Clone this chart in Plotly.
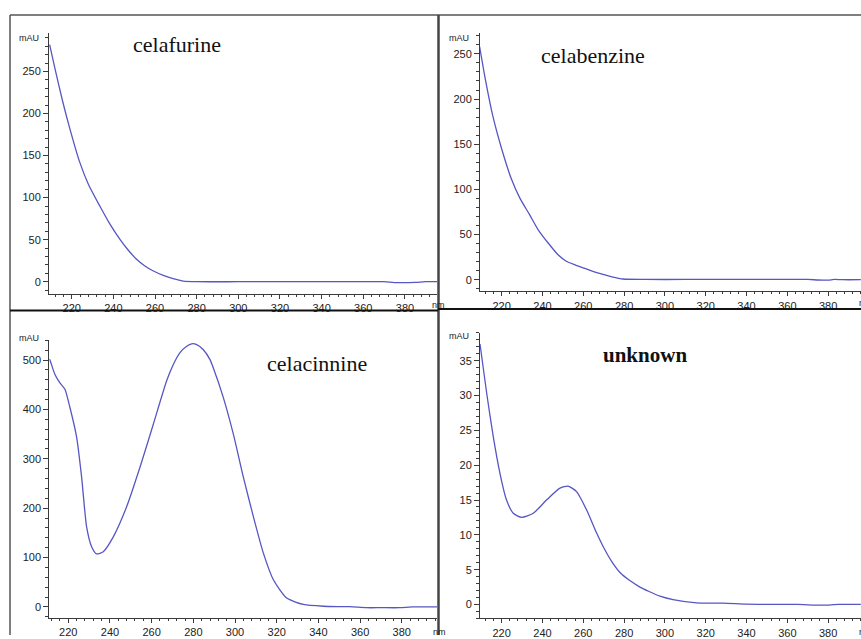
import plotly.graph_objects as go

W, H = 861, 639

# ---------------- data ----------------
celafurine_nm = [209.4, 212, 215.7, 219, 223.8, 228, 233.5, 238, 243, 247, 251, 255, 259, 264,
                 268.7, 273.5, 280, 300, 320, 340, 360, 370, 375, 380, 385, 390, 395.4]
celafurine_mau = [282, 253, 214, 183, 142.5, 116, 90, 70, 51, 38, 27, 19, 13, 7.5,
                  3.6, 0.8, 0, 0, 0, 0, 0, 0, -1, -1, -0.8, 0, 0]

celabenzine_nm = [209.2, 212, 215.7, 220, 224.7, 229, 233.7, 238, 243.5, 247.5, 251.7, 256, 259.9,
                  265, 269.7, 274, 279.5, 290, 310, 330, 350, 370, 375, 380, 383, 387, 396]
celabenzine_mau = [258, 222, 181, 145, 112, 90, 72, 55, 38.7, 28, 20.5, 16.5, 13.2,
                   9, 5.8, 3.2, 0.8, 0.3, 0.3, 0.3, 0.3, 0.3, -0.3, -0.5, 0.4, 0, 0]

celacinnine_nm = [210.9, 211.2, 213.6, 216.0, 218.4, 220.8, 224.0, 226.4, 228.8, 231.2, 233.6, 236.8,
                  241.6, 248.0, 254.4, 260.8, 267.2, 270.4, 273.6, 276.8, 279.2, 281.6, 284.8, 288.0,
                  289.6, 294.4, 299.2, 304.0, 308.8, 313.6, 318.4, 324.8, 332.8, 342.4, 355, 363,
                  370, 379, 385, 396.9]
celacinnine_mau = [502, 500, 471, 454, 441, 404, 344, 263, 162, 122, 107.5, 112,
                   142, 203, 283, 370, 458, 491, 515, 528, 533, 531.5, 521, 501,
                   484, 424, 350, 263, 183, 109, 55, 18, 5, 1.4, 0.5, -1.5,
                   -1.5, -1.5, 0, 0]

unknown_nm = [209.4, 212.7, 215.9, 219.2, 222.4, 225.7, 229.8, 235.5, 242.0, 248.6, 252.6, 256.7,
              261.6, 266.5, 269.8, 273.9, 278.0, 283.0, 287.8, 292.0, 297.6, 304.0, 315.5, 328.6,
              340, 351.5, 365, 377, 385, 396]
unknown_mau = [37.4, 30.3, 24.1, 18.8, 15.0, 13.1, 12.5, 13.1, 15.0, 16.7, 17.0, 16.2,
               13.6, 10.3, 8.3, 6.2, 4.6, 3.4, 2.5, 1.9, 1.2, 0.7, 0.23, 0.2,
               0.05, 0.0, 0.0, -0.1, 0.0, 0.0]

titles = ["celafurine", "celabenzine", "celacinnine", "unknown"]

# ---------------- layout geometry (pixels) ----------------
panels = [
    dict(x=(49, 437), y=(33, 296), xr=[209.1, 395.4], yr=[-14.8, 296], dt=50, mdt=10,
         tpos=(177, 45), mau=(41, 38), nm=(430, 307), data=(celafurine_nm, celafurine_mau)),
    dict(x=(480, 861), y=(33.3, 293.3), xr=[209.4, 396.1], yr=[-13, 273], dt=50, mdt=10,
         tpos=(593, 56), mau=(471, 38), nm=(857, 305), data=(celabenzine_nm, celabenzine_mau)),
    dict(x=(49.3, 437), y=(342, 621.7), xr=[210.9, 396.9], yr=[-22, 541], dt=100, mdt=20,
         tpos=(317, 366), mau=(41, 340), nm=(431, 636), data=(celacinnine_nm, celacinnine_mau)),
    dict(x=(480, 861), y=(335, 622.3), xr=[209.4, 396.1], yr=[-2.0, 39.0], dt=5, mdt=1,
         tpos=(645, 357), mau=(471, 338), nm=(857, 636), data=(unknown_nm, unknown_mau)),
]

fig = go.Figure()
annotations = []
line_color = "#5656c4"
axis_color = "#3a3a3a"
tick_font = dict(family="Liberation Sans, Arial", size=11, color="#222222")

for i, p in enumerate(panels, start=1):
    xa = "x" if i == 1 else f"x{i}"
    ya = "y" if i == 1 else f"y{i}"
    xs, ys = p["data"]
    fig.add_trace(go.Scatter(x=xs, y=ys, mode="lines", xaxis=xa, yaxis=ya,
                             line=dict(color=line_color, width=1.3, shape="spline", smoothing=0.6),
                             showlegend=False, hoverinfo="skip"))
    xkey = "xaxis" if i == 1 else f"xaxis{i}"
    ykey = "yaxis" if i == 1 else f"yaxis{i}"
    fig.update_layout({
        xkey: dict(domain=[p["x"][0] / W, min(p["x"][1] / W, 1.0)], range=p["xr"], anchor=ya,
                   showline=True, linecolor=axis_color, linewidth=1, showgrid=False, zeroline=False,
                   ticks="outside", ticklen=4, tickcolor=axis_color, tickwidth=1,
                   tick0=0, dtick=20, tickfont=tick_font,
                   minor=dict(dtick=4, ticklen=2, ticks="outside", tickcolor=axis_color, showgrid=False)),
        ykey: dict(domain=[1 - p["y"][1] / H, 1 - p["y"][0] / H], range=p["yr"], anchor=xa,
                   showline=True, linecolor=axis_color, linewidth=1, showgrid=False, zeroline=False,
                   ticks="outside", ticklen=5, tickcolor=axis_color, tickwidth=1,
                   tick0=0, dtick=p["dt"], tickfont=tick_font,
                   minor=dict(dtick=p["mdt"], ticklen=3, ticks="outside", tickcolor=axis_color, showgrid=False)),
    })
    bold = titles[i - 1] == "unknown"
    annotations.append(dict(text=f"<b>{titles[i-1]}</b>" if bold else titles[i - 1],
                            xref="paper", yref="paper", x=p["tpos"][0] / W, y=1 - p["tpos"][1] / H,
                            xanchor="center", yanchor="middle", showarrow=False,
                            font=dict(family="Liberation Serif, Times New Roman", size=21 if bold else 22,
                                      color="#111111")))
    annotations.append(dict(text="mAU", xref="paper", yref="paper", x=p["mau"][0] / W, y=1 - p["mau"][1] / H,
                            xanchor="right", yanchor="middle", showarrow=False,
                            font=dict(family="Liberation Sans, Arial", size=9, color="#222222")))
    annotations.append(dict(text="nm", xref="paper", yref="paper", x=p["nm"][0] / W, y=1 - p["nm"][1] / H,
                            xanchor="left", yanchor="middle", showarrow=False,
                            font=dict(family="Liberation Sans, Arial", size=9, color="#222222")))

# frame / separator lines of the composite figure
def hline(y, x0, x1, w, c):
    return dict(type="line", xref="paper", yref="paper", x0=x0 / W, x1=x1 / W,
                y0=1 - y / H, y1=1 - y / H, line=dict(color=c, width=w))

def vline(x, y0, y1, w, c):
    return dict(type="line", xref="paper", yref="paper", x0=x / W, x1=x / W,
                y0=1 - y0 / H, y1=1 - y1 / H, line=dict(color=c, width=w))

shapes = [
    hline(15, 10, 861, 1.5, "#555555"),
    vline(10, 15, 639, 1.5, "#555555"),
    vline(438.5, 15, 639, 2.5, "#444444"),
    hline(312.5, 10, 438, 2, "#111111"),
    hline(311, 438, 861, 2, "#111111"),
]

fig.update_layout(width=W, height=H, margin=dict(l=0, r=0, t=0, b=0),
                  paper_bgcolor="white", plot_bgcolor="white",
                  annotations=annotations, shapes=shapes, showlegend=False)

fig.write_html("out.html", config={"displayModeBar": False},
               post_script="document.body.style.margin='0';document.body.style.overflow='hidden';")
